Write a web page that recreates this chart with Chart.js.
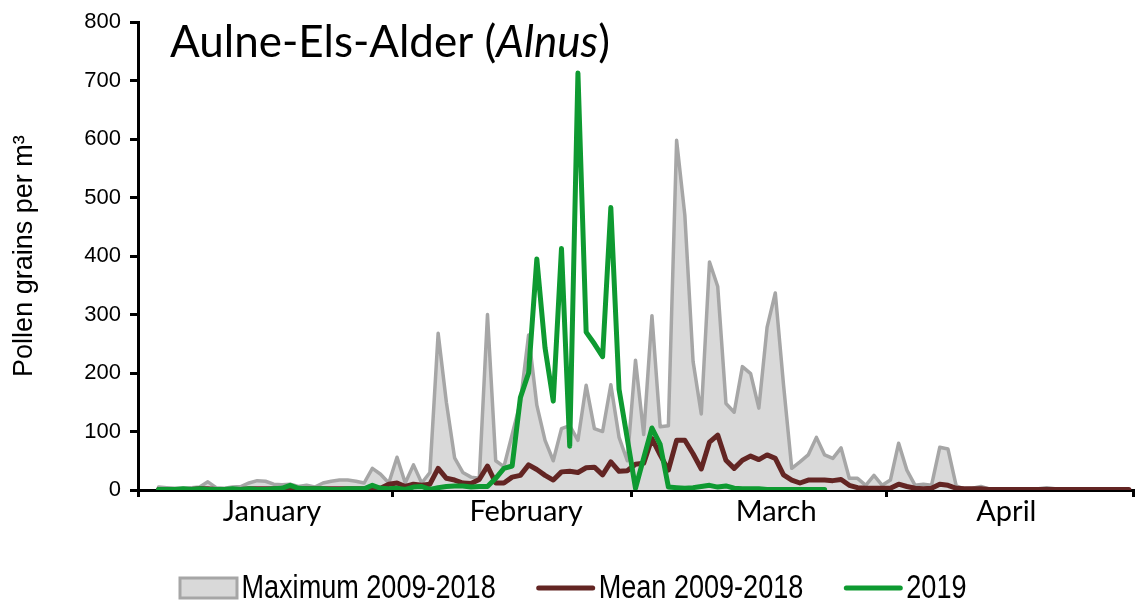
<!DOCTYPE html>
<html><head><meta charset="utf-8">
<script src="https://cdn.jsdelivr.net/npm/chart.js@4/dist/chart.umd.min.js"></script>
<style>html,body{margin:0;padding:0;background:#fff;overflow:hidden}</style>
</head><body>
<canvas id="c" width="1135" height="604"></canvas>
<script>
// ---- data ----
const monthNames = ['January', 'February', 'March', 'April'];
const monthDays = [31, 29, 31, 30];
const yTicks = [0, 100, 200, 300, 400, 500, 600, 700, 800];
const seriesNames = ['Maximum 2009-2018', 'Mean 2009-2018', '2019'];
const yTitle = 'Pollen grains per m³';
const titleParts = [{ text: 'Aulne-Els-Alder (', italic: false }, { text: 'Alnus', italic: true }, { text: ')', italic: false }];

const maxValues = [null, null,
  5, 4, 3, 3, 4, 5, 14, 4, 3, 5, 6, 12, 16, 15, 10, 9, 10, 6, 8, 5, 12, 15, 17, 17, 15, 12, 37, 27, 12,
  56, 12, 43, 12, 30, 268, 150, 55, 30, 22, 20, 300, 50, 40, 95, 150, 265, 145, 85, 50, 105, 110, 85, 179, 105, 100, 180, 90, 50,
  222, 95, 298, 108, 110, 598, 470, 220, 130, 390, 348, 148, 133, 211, 199, 140, 278, 337, 180, 37, 48, 60, 90, 60, 54, 72, 20, 20, 8, 25, 8,
  17, 80, 34, 8, 10, 8, 73, 70, 7, 2, 3, 6, 2, 2, 2, 1, 2, 1, 2, 4, 2, 1, 1, 1, 1, 1, 1, 1, 1, 1];

const meanValues = [null, null,
  1, 1, 1, 1, 1, 2, 2, 1, 1, 1, 1, 2, 2, 2, 2, 2, 3, 2, 2, 2, 2, 2, 2, 2, 2, 2, 4, 3, 10,
  12, 6, 10, 8, 10, 37, 20, 17, 12, 11, 18, 41, 12, 12, 22, 25, 43, 35, 25, 17, 31, 32, 30, 38, 39, 26, 48, 32, 33,
  44, 46, 88, 60, 34, 85, 85, 62, 36, 82, 94, 51, 37, 51, 58, 52, 60, 54, 26, 17, 12, 17, 17, 17, 16, 18, 8, 4, 3, 3, 3,
  3, 10, 6, 3, 2, 3, 10, 8, 3, 2, 2, 2, 1, 1, 1, 1, 1, 1, 1, 1, 1, 1, 1, 1, 1, 1, 1, 1, 1, 1];

const values2019 = [null, null,
  1, 1, 1, 2, 1, 2, 1, 1, 1, 2, 1, 2, 1, 1, 2, 3, 8, 3, 2, 2, 2, 1, 1, 2, 2, 2, 8, 3, 2,
  3, 1, 5, 6, 1, 4, 6, 7, 7, 5, 6, 6, 20, 37, 41, 158, 200, 395, 243, 152, 413, 75, 713, 270, 250, 228, 483, 172, 88,
  3, 55, 106, 78, 5, 4, 3, 4, 6, 8, 5, 7, 3, 2, 2, 2, 1, 1, 1, 1, 1, 1, 1, 1];

// ---- layout helpers (label placement, in days) ----
const monthLabelShift = [0.8, 1.7, 2.1, -0.4];

// ---- derived ----
const totalDays = monthDays.reduce((a, b) => a + b, 0);
const monthBounds = [0];
monthDays.forEach(d => monthBounds.push(monthBounds[monthBounds.length - 1] + d));
const monthLabelPos = monthDays.map((d, i) => monthBounds[i] + d / 2 + monthLabelShift[i]);
const toXY = arr => arr.map((v, i) => ({ x: i + 0.5, y: v }));

function hasFont(name) {
  const c = document.createElement('canvas').getContext('2d');
  c.font = '40px monospace';
  const a = c.measureText('Maximum 2009-2018').width;
  c.font = '40px "' + name + '", monospace';
  return Math.abs(c.measureText('Maximum 2009-2018').width - a) > 0.5;
}
const narrowOK = hasFont('Liberation Sans Narrow');

const titlePlugin = {
  id: 'mixedTitle',
  afterDraw(chart) {
    const ctx = chart.ctx;
    ctx.save();
    ctx.fillStyle = '#000';
    ctx.textBaseline = 'alphabetic';
    let x = 170;
    const y = 57;
    for (const p of titleParts) {
      ctx.font = (p.italic ? 'italic ' : '') + '44px Lato';
      ctx.fillText(p.text, x, y);
      x += ctx.measureText(p.text).width;
    }
    ctx.restore();
  }
};

const legendPlugin = {
  id: 'bottomLegend',
  afterDraw(chart) {
    const ctx = chart.ctx;
    const ds = chart.data.datasets;
    const fontSize = 33;
    const sx = narrowOK ? 1 : 0.82;
    ctx.save();
    ctx.font = fontSize + 'px ' + (narrowOK ? '"Liberation Sans Narrow"' : '"Liberation Sans"');
    const boxW = 60, gap = 3, itemGap = 40;
    const widths = ds.map(d => boxW + gap + ctx.measureText(d.label).width * sx);
    const total = widths.reduce((a, b) => a + b, 0) + itemGap * (ds.length - 1);
    let x = (chart.width - total) / 2 + 5;
    const cy = 588;
    ds.forEach((d, i) => {
      if (d.fill) {
        ctx.fillStyle = d.backgroundColor;
        ctx.strokeStyle = d.borderColor;
        ctx.lineWidth = 3;
        ctx.fillRect(x + 1.5, cy - 10, boxW - 3, 20);
        ctx.strokeRect(x + 1.5, cy - 10, boxW - 3, 20);
      } else {
        ctx.strokeStyle = d.borderColor;
        ctx.lineWidth = 5;
        ctx.lineCap = 'round';
        ctx.beginPath();
        ctx.moveTo(x + 3, cy);
        ctx.lineTo(x + boxW - 3, cy);
        ctx.stroke();
      }
      ctx.fillStyle = '#000';
      ctx.textBaseline = 'middle';
      ctx.save();
      ctx.translate(x + boxW + gap, cy + 1);
      ctx.scale(sx, 1);
      ctx.fillText(d.label, 0, 0);
      ctx.restore();
      x += widths[i] + itemGap;
    });
    ctx.restore();
  }
};

new Chart(document.getElementById('c'), {
  type: 'line',
  data: {
    datasets: [
      { label: seriesNames[0], data: toXY(maxValues), order: 3, fill: 'origin',
        backgroundColor: '#d9d9d9', borderColor: '#a6a6a6', borderWidth: 3.5 },
      { label: seriesNames[1], data: toXY(meanValues), order: 2, fill: false,
        borderColor: '#632523', backgroundColor: '#632523', borderWidth: 5 },
      { label: seriesNames[2], data: toXY(values2019), order: 1, fill: false,
        borderColor: '#0e9a31', backgroundColor: '#0e9a31', borderWidth: 5 }
    ]
  },
  options: {
    responsive: false,
    maintainAspectRatio: false,
    devicePixelRatio: 1,
    animation: false,
    elements: {
      point: { radius: 0, hoverRadius: 0 },
      line: { tension: 0, borderJoinStyle: 'round', borderCapStyle: 'round' }
    },
    layout: { padding: { left: 8, top: 20, right: 2, bottom: 66 } },
    plugins: { legend: { display: false }, tooltip: { enabled: false }, title: { display: false } },
    scales: {
      x: {
        type: 'linear', position: 'bottom', weight: 0, min: 0, max: totalDays,
        afterBuildTicks: s => { s.ticks = monthBounds.map(v => ({ value: v })); },
        ticks: { display: false },
        grid: { display: true, drawOnChartArea: false, drawTicks: true, tickLength: 7, color: '#000', lineWidth: 3 },
        border: { display: true, color: '#000', width: 3 },
        afterFit: s => { s.height = 8; }
      },
      xLabels: {
        type: 'linear', position: 'bottom', weight: 1, min: 0, max: totalDays,
        afterBuildTicks: s => { s.ticks = monthLabelPos.map(v => ({ value: v })); },
        ticks: { autoSkip: false, maxRotation: 0, padding: -12, color: '#000',
          font: { family: 'Lato', size: 29 }, callback: (v, i) => monthNames[i] },
        grid: { display: false },
        border: { display: false },
        afterFit: s => { s.height = 40; }
      },
      y: {
        type: 'linear', min: 0, max: 800,
        afterBuildTicks: s => { s.ticks = yTicks.map(v => ({ value: v })); },
        ticks: { color: '#000', font: { family: '"Liberation Sans", Arial', size: 22 }, padding: 9 },
        grid: { drawOnChartArea: false, drawTicks: true, tickLength: 8, color: '#000', lineWidth: 3 },
        border: { display: true, color: '#000', width: 3 },
        title: { display: true, text: yTitle, color: '#000', font: { family: '"Liberation Sans", Arial', size: 27 }, padding: { top: 0, bottom: 4 } },
        afterFit: s => { s.width = 130; }
      }
    }
  },
  plugins: [titlePlugin, legendPlugin]
});
</script>
</body></html>
